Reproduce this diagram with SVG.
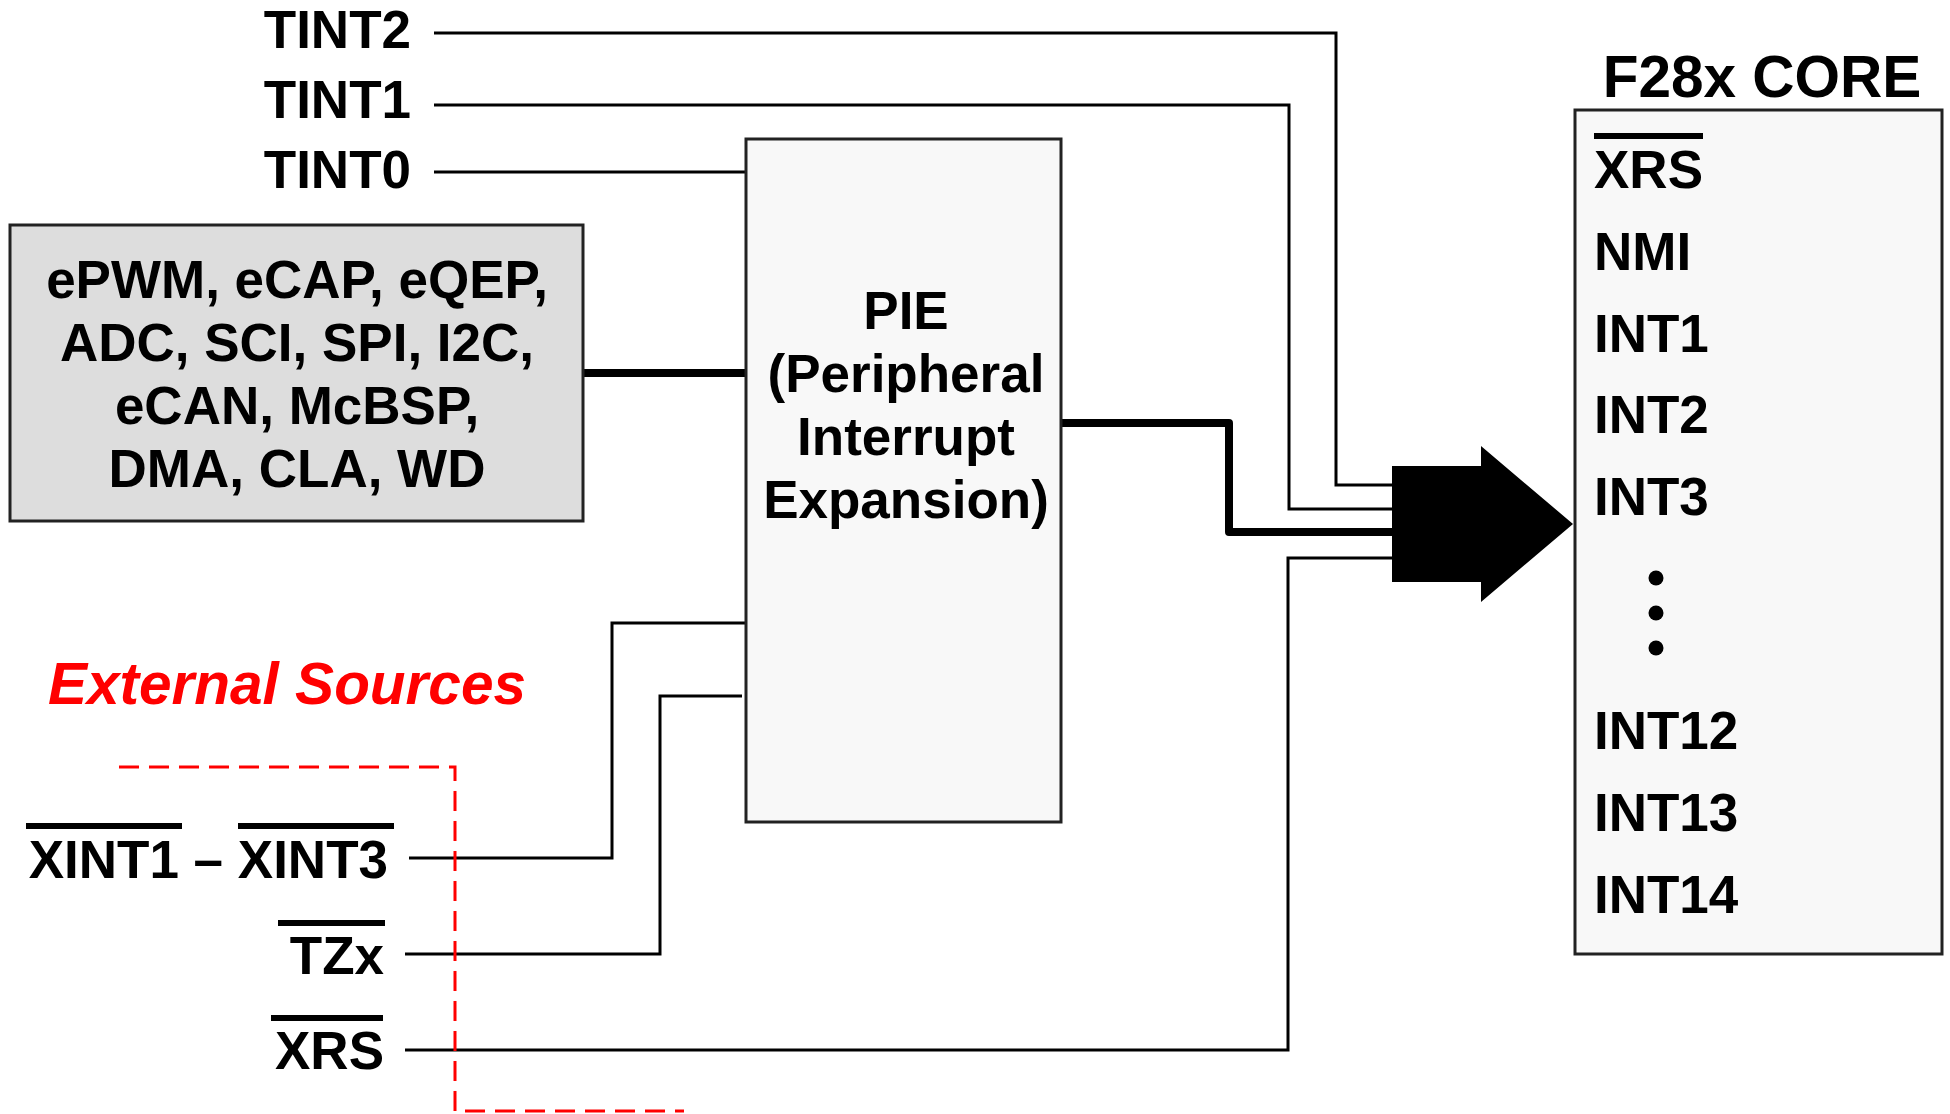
<svg xmlns="http://www.w3.org/2000/svg" width="1950" height="1114" viewBox="0 0 1950 1114">
<style>
text{font-family:"Liberation Sans",Arial,sans-serif;font-weight:bold;fill:#000}
.lbl{font-size:53px}
.box{stroke:#222;stroke-width:3}
.w{fill:none;stroke:#000;stroke-width:3}
.wt{fill:none;stroke:#000;stroke-width:8;stroke-linejoin:round}
.bar{fill:#000}
</style>
<rect width="1950" height="1114" fill="#fff"/>
<g id="connectors">
<path class="w" d="M434 33H1336V485H1392"/>
<path class="w" d="M434 105H1289V509H1392"/>
<path class="w" d="M434 172H746"/>
<path class="wt" d="M583 373H746"/>
<path class="wt" d="M1061 423H1229V532H1392"/>
<path class="w" d="M405 1050H1288V558H1392"/>
<path class="w" d="M409 858H612V623H746"/>
<path class="w" d="M405 954H660V696H742"/>
<polygon fill="#000" points="1392,466 1481,466 1481,446 1573,524 1481,602 1481,582 1392,582"/>
</g>
<g id="ext-region">
<path d="M119 767H455V1111H684" fill="none" stroke="#ff0000" stroke-width="3" stroke-dasharray="20 10"/>
<text x="48" y="704" style="font-size:58.5px;font-style:italic;fill:#ff0000">External Sources</text>
</g>
<g id="tint-labels">
<text class="lbl" x="411" y="48" text-anchor="end">TINT2</text>
<text class="lbl" x="411" y="118" text-anchor="end">TINT1</text>
<text class="lbl" x="411" y="188" text-anchor="end">TINT0</text>
</g>
<g id="peripherals">
<rect class="box" x="10" y="225" width="573" height="296" fill="#dddddd"/>
<text class="lbl" x="297" y="298" text-anchor="middle">ePWM, eCAP, eQEP,</text>
<text class="lbl" x="297" y="361" text-anchor="middle">ADC, SCI, SPI, I2C,</text>
<text class="lbl" x="297" y="424" text-anchor="middle">eCAN, McBSP,</text>
<text class="lbl" x="297" y="487" text-anchor="middle">DMA, CLA, WD</text>
</g>
<g id="pie">
<rect class="box" x="746" y="139" width="315" height="683" fill="#f8f8f8"/>
<text class="lbl" x="906" y="329" text-anchor="middle">PIE</text>
<text class="lbl" x="906" y="392" text-anchor="middle">(Peripheral</text>
<text class="lbl" x="906" y="455" text-anchor="middle">Interrupt</text>
<text class="lbl" x="906" y="518" text-anchor="middle">Expansion)</text>
</g>
<g id="ext-labels">
<text class="lbl" x="388" y="878" text-anchor="end">XINT1 – XINT3</text>
<rect class="bar" x="26" y="823" width="156" height="6"/>
<rect class="bar" x="238" y="823" width="156" height="6"/>
<text class="lbl" x="384" y="974" text-anchor="end">TZx</text>
<rect class="bar" x="278" y="920" width="107" height="6"/>
<text class="lbl" x="384" y="1069" text-anchor="end">XRS</text>
<rect class="bar" x="271" y="1015" width="112" height="6"/>
</g>
<g id="core">
<text x="1762" y="97" text-anchor="middle" style="font-size:58.5px">F28x CORE</text>
<rect class="box" x="1575" y="110" width="367" height="844" fill="#f8f8f8"/>
<rect class="bar" x="1594" y="133" width="109" height="6"/>
<text class="lbl" x="1594" y="188">XRS</text>
<text class="lbl" x="1594" y="270">NMI</text>
<text class="lbl" x="1594" y="352">INT1</text>
<text class="lbl" x="1594" y="433">INT2</text>
<text class="lbl" x="1594" y="515">INT3</text>
<circle cx="1656" cy="578" r="7.5"/>
<circle cx="1656" cy="613" r="7.5"/>
<circle cx="1656" cy="648" r="7.5"/>
<text class="lbl" x="1594" y="749">INT12</text>
<text class="lbl" x="1594" y="831">INT13</text>
<text class="lbl" x="1594" y="913">INT14</text>
</g>
</svg>
